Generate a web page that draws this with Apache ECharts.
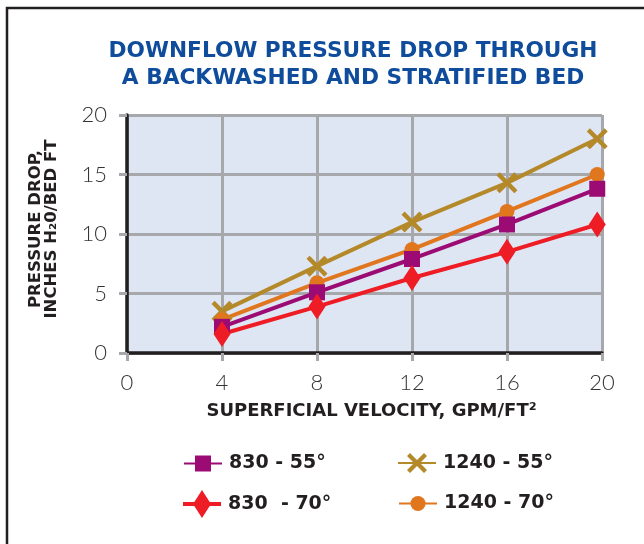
<!DOCTYPE html>
<html>
<head>
<meta charset="utf-8">
<script src="https://cdn.jsdelivr.net/npm/echarts@6/dist/echarts.min.js"></script>
<style>
  html, body { margin: 0; padding: 0; background: #ffffff; }
  #chart { width: 644px; height: 544px; }
</style>
</head>
<body>
<div id="chart"></div>
<script>
// Superficial velocity (gpm/ft²) at which each pressure drop was measured
const velocity = [4, 8, 12, 16, 19.8];

// Pressure drop, inches H2O per foot of bed
const drop830at55 = [2.2, 5.1, 7.9, 10.8, 13.8];
const drop830at70 = [1.6, 3.9, 6.3, 8.5, 10.8];
const drop1240at55 = [3.5, 7.3, 11.0, 14.3, 18.0];
const drop1240at70 = [2.8, 5.9, 8.7, 11.9, 15.0];

const xTicks = [0, 4, 8, 12, 16, 20];
const yTicks = [0, 5, 10, 15, 20];

const names = ['830 - 55°', '1240 - 55°', '830  - 70°', '1240 - 70°'];

const colors = {
  purple: '#9c0b73',
  red: '#ee1d25',
  gold: '#b4892a',
  orange: '#e0771f'
};

const crossPath = 'path://M0,3 L3,0 L10,7 L17,0 L20,3 L13,10 L20,17 L17,20 L10,13 L3,20 L0,17 L7,10 Z';
const diamondPath = 'path://M8,0 L16,13 L8,26 L0,13 Z';
// legend key for the diamond series: a short stroke with a tall diamond on it
const diamondKeyPath = 'path://M0,12 L11.3,12 L19,0 L26.7,12 L38,12 L38,16 L26.7,16 L19,28 L11.3,16 L0,16 Z';

function pairs(ys) {
  return velocity.map((v, i) => [v, ys[i]]);
}

function lineSeries(name, ys, color, symbol, size) {
  return {
    name: name,
    type: 'line',
    data: pairs(ys),
    symbol: symbol,
    symbolSize: size,
    showAllSymbol: true,
    lineStyle: { color: color, width: 4 },
    itemStyle: { color: color, opacity: 1 },
    emphasis: { disabled: true },
    animation: false,
    z: 3
  };
}

const boldFont = '"DejaVu Sans", Verdana, sans-serif';
const lightFont = 'Lato, "Open Sans", sans-serif';

function legendAt(item, left, top, h) {
  return {
    data: [item],
    left: left,
    top: top,
    itemWidth: 38,
    itemHeight: h,
    itemGap: 0,
    selectedMode: false,
    textStyle: {
      fontFamily: boldFont,
      fontWeight: 'bold',
      fontSize: 19,
      color: '#231f20',
      padding: [0, 0, 0, 2]
    }
  };
}

const chart = echarts.init(document.getElementById('chart'), null, { renderer: 'canvas' });

chart.setOption({
  backgroundColor: '#ffffff',
  animation: false,
  title: {
    text: 'DOWNFLOW PRESSURE DROP THROUGH\nA BACKWASHED AND STRATIFIED BED',
    left: 348,
    top: 33,
    textAlign: 'center',
    textStyle: {
      fontFamily: boldFont,
      fontWeight: 'bold',
      fontSize: 21.7,
      lineHeight: 27,
      color: '#0f4c9b'
    }
  },
  graphic: [
    {
      type: 'rect',
      shape: { x: 7, y: 8, width: 720, height: 620 },
      style: { fill: 'none', stroke: '#231f20', lineWidth: 2.5 },
      silent: true
    }
  ],
  legend: [
    legendAt(names[0], 178, 449, 20),
    legendAt(names[1], 392, 448, 25),
    legendAt({ name: names[2], icon: diamondKeyPath }, 178, 485, 28),
    legendAt(names[3], 393, 489, 19)
  ],
  grid: {
    left: 127,
    right: 42,
    top: 115,
    bottom: 191,
    show: true,
    backgroundColor: '#dfe6f3',
    borderWidth: 0
  },
  xAxis: {
    type: 'value',
    min: 0,
    max: 20,
    interval: 4,
    name: 'SUPERFICIAL VELOCITY, GPM/FT²',
    nameLocation: 'middle',
    nameGap: 49,
    nameTextStyle: {
      fontFamily: boldFont,
      fontWeight: 'bold',
      fontSize: 18,
      color: '#231f20',
      padding: [0, 0, 0, 14]
    },
    axisLine: { show: true, onZero: false, lineStyle: { color: '#231f20', width: 3.5 } },
    axisTick: { show: true, length: 8, lineStyle: { color: '#a7a8ab', width: 3 } },
    splitLine: { show: true, lineStyle: { color: '#a7a8ab', width: 3 } },
    axisLabel: {
      margin: 19,
      fontFamily: lightFont,
      fontWeight: 300,
      fontSize: 22,
      color: '#333333',
      formatter: v => (xTicks.indexOf(v) >= 0 ? String(v) : '')
    }
  },
  yAxis: {
    type: 'value',
    min: 0,
    max: 20,
    interval: 5,
    name: 'PRESSURE DROP,\nINCHES H₂0/BED FT',
    nameLocation: 'middle',
    nameRotate: 90,
    nameGap: 67,
    nameTextStyle: {
      fontFamily: boldFont,
      fontWeight: 'bold',
      fontSize: 16.5,
      lineHeight: 16,
      color: '#231f20',
      padding: [0, 0, 0, 10]
    },
    axisLine: { show: true, onZero: false, lineStyle: { color: '#231f20', width: 3.5 } },
    axisTick: { show: true, length: 8, lineStyle: { color: '#a7a8ab', width: 3 } },
    splitLine: { show: true, lineStyle: { color: '#a7a8ab', width: 3 } },
    axisLabel: {
      margin: 20,
      fontFamily: lightFont,
      fontWeight: 300,
      fontSize: 22,
      color: '#333333',
      formatter: v => (yTicks.indexOf(v) >= 0 ? String(v) : '')
    }
  },
  series: [
    lineSeries(names[1], drop1240at55, colors.gold, crossPath, 21),
    lineSeries(names[3], drop1240at70, colors.orange, 'circle', 15),
    lineSeries(names[0], drop830at55, colors.purple, 'rect', 16),
    lineSeries(names[2], drop830at70, colors.red, diamondPath, [17, 26])
  ]
});
</script>
</body>
</html>
